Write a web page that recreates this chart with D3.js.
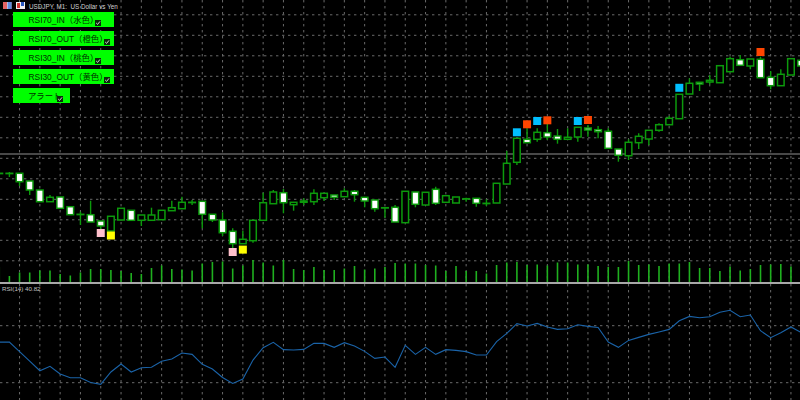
<!DOCTYPE html>
<html><head><meta charset="utf-8">
<script src="https://cdn.jsdelivr.net/npm/d3@7"></script>
<style>html,body{margin:0;padding:0;background:#000;overflow:hidden}svg{display:block}</style>
</head><body><svg id="c" width="800" height="400"></svg>
<script>
// Prices are in points above a base quote; bars run left to right, the first one cut by the edge.
const opens=[126.7,126.7,126.7,119,110,98.3,103,93.3,85.7,85.3,79,69,80,89.7,79.7,79.7,80.3,89.3,91.3,97.7,98.7,85.7,80,68.7,56.3,59.3,79.7,96.3,107.3,95.3,97.7,98.3,102.3,105,103.3,108.7,102.7,100,92.3,92.7,77.3,108,95,110.7,97.7,97,101.3,101.7,96.7,97,116,137.7,160.7,160.7,167.3,164,160.7,163,172,170.3,168.7,151,144.3,157.3,161,169.7,175.3,181.3,206,217.7,218,217.3,228.3,240.3,234,240.7,222.7,214.3,225,239.7];
const highs=[126.7,128,126.7,119,110,105,103,93.3,88.3,99.3,79,83.7,91.7,89.7,85,92.3,89.7,99.3,103.3,100,98.7,85.7,87.7,71.7,69.3,79.7,107.3,110,111,97.7,101.7,110.7,106.7,105,111.7,110,102.7,100,92.3,95,108.7,108,107.7,113.3,104.3,103,102.3,101.7,100.7,116.7,149,161.7,171.7,171.7,176.7,171,171.7,172.7,175,174,171.7,151,160.7,166.7,169.7,176.7,184,205.7,221.7,217.7,225,234.3,243.3,245,241,243.3,229,230.7,241.3,239.7];
const lows=[126.7,123,114,105,98.3,98.3,91.7,85.3,75,78,71,66,80,79.7,74,79.7,80.3,89.3,91.3,95,71.7,78,64,52,56.3,57.3,79.7,96.3,86.7,89.3,95,95,99,100,103.3,98.3,92.7,88.3,82.3,78,77.3,92.7,95,95,97.7,97,98.3,93.3,94,97,116,135,157.3,158.3,160,156.3,160.7,158.3,163.3,161.7,151.7,138.3,140,151,155,168.3,175.3,181.3,206,209,215.7,217.3,228.3,234.7,230.7,222.3,210.7,214.3,225,234];
const closes=[126.7,126.7,118.3,110,98.3,102.7,91.7,85.3,85.7,78,74,83.7,91.7,79.7,85,85,89.7,92.3,97.7,97.7,85.7,80,67.3,56.3,60.7,79.7,97.3,108,97.3,97.7,99,106.7,106.7,102.7,108.7,105.3,99,91.3,92.3,78,108.7,95.7,107.7,96.7,104.3,103,101.3,96.7,96.7,116.7,136.7,161.7,157.3,167.7,163,160.7,162.7,172.7,170,168.3,151.7,144.7,157.7,163.7,169.7,175.3,181.7,205.7,216.7,216,219.7,234.3,241.3,234.7,241,222.3,214.3,225.7,241.3,234];
const volumes=[30,12,19,19,23,23,16,13,19,26,26,24,22,18,16,28,33,26,25,23,37,40,41,27,33,44,39,33,44,26,24,30,24,24,27,32,25,27,30,38,37,37,34,33,22,32,22,22,17,34,39,40,34,35,33,39,39,35,35,32,30,30,42,34,35,32,37,37,40,28,28,22,31,23,26,34,35,36,31,30];
const rsi=[58.5,58.5,51.8,45.2,38.4,41.5,36.1,33.5,33.5,30.2,28.8,37.5,43.1,37.5,40.5,40.8,45,46.6,50.8,49.9,42.9,39.6,33.7,29.5,32.6,45.9,54.6,58.3,53.2,52.9,53.4,57.6,57.6,54.8,58.1,55.7,52,47.1,48,40.8,56.2,49.9,54.8,49.9,53.2,52.7,51.8,49.4,49.4,58.8,64.6,71.4,69.8,71.6,69.1,67.4,67.9,70.7,69.5,68.8,58.5,54.8,59.7,61.8,63.9,65.6,67.4,73.5,76.5,75.6,76.3,79.4,80.8,76.3,77.5,66.5,61.6,65.1,69.1,65.3];
const rsiLevels=[70,30];
const pinkBars=[10,23], pinkPrices=[67,48];
const yellowBars=[11,24], yellowPrices=[64.5,50.4];
const blueBars=[51,53,57,67], bluePrices=[167.7,179,179,212.2];
const orangeBars=[52,54,58,75], orangePrices=[175.7,179.7,180,248];
const buttonLabels=["RSI70_IN（水色）","RSI70_OUT（橙色）","RSI30_IN（桃色）","RSI30_OUT（黄色）","アラート"];
const buttonStates=[true,true,true,true,true];
const chartTitle="USDJPY, M1:  US Dollar vs Yen";
const rsiTitle="RSI(14) 40.82";
const bidPrice=146;

const svg=d3.select("#c");
svg.append("rect").attr("width",800).attr("height",400).attr("fill","#000");
const x=d3.scaleLinear().domain([0,79]).range([-0.75,801.1]);
const yP=d3.scaleLinear().domain([0,300]).range([300,0]);
const yV=d3.scaleLinear().domain([0,100]).range([282,232]);
const yR=d3.scaleLinear().domain([30,70]).range([382.7,325.7]);
const GRID="#6a6a6a";
const dash="2.4,3.6";

// grid
const g=svg.append("g").attr("stroke",GRID).attr("stroke-width",1).attr("stroke-dasharray",dash);
const vIdx=d3.range(2,80,2);
g.selectAll(".v1").data(vIdx).join("line").attr("class","v1").attr("x1",x).attr("x2",x).attr("y1",0).attr("y2",282);
g.selectAll(".v2").data(vIdx).join("line").attr("class","v2").attr("x1",x).attr("x2",x).attr("y1",284).attr("y2",400);
const hPrices=d3.range(0,13).map(k=>yP.invert(14.8+k*20.5));
g.selectAll(".h").data(hPrices).join("line").attr("class","h").attr("x1",0).attr("x2",800).attr("y1",yP).attr("y2",yP);
g.selectAll(".r").data(rsiLevels).join("line").attr("class","r").attr("x1",0).attr("x2",800).attr("y1",yR).attr("y2",yR);

// bid line
svg.append("line").attr("x1",0).attr("x2",800).attr("y1",yP(bidPrice)).attr("y2",yP(bidPrice)).attr("stroke","#606060").attr("stroke-width",1.4);

// volumes
svg.append("g").selectAll("line").data(volumes).join("line")
 .attr("x1",(d,i)=>x(i)).attr("x2",(d,i)=>x(i)).attr("y1",yV(0)).attr("y2",d=>yV(d))
 .attr("stroke","#1fb01f").attr("stroke-width",1.6);

// candles
const idx=d3.range(opens.length);
const GREEN="#0c9a0c";
svg.append("g").selectAll("line").data(idx).join("line")
 .attr("x1",x).attr("x2",x).attr("y1",i=>yP(highs[i])).attr("y2",i=>yP(lows[i]))
 .attr("stroke",GREEN).attr("stroke-width",1.4);
svg.append("g").selectAll("rect").data(idx).join("rect")
 .attr("x",i=>x(i)-3.3).attr("width",6.6)
 .attr("y",i=>yP(Math.max(opens[i],closes[i])))
 .attr("height",i=>Math.max(0.3,Math.abs(yP(opens[i])-yP(closes[i]))))
 .attr("fill",i=>closes[i]<opens[i]?"#fff":"#000")
 .attr("stroke",GREEN).attr("stroke-width",1.5);

// signal markers
function marks(bars,prices,color){
 svg.append("g").selectAll("rect").data(bars).join("rect")
  .attr("x",d=>x(d)-4).attr("width",8).attr("height",8)
  .attr("y",(d,i)=>yP(prices[i])-4).attr("fill",color);
}
marks(pinkBars,pinkPrices,"#ffc0cb");
marks(yellowBars,yellowPrices,"#ffff00");
marks(blueBars,bluePrices,"#00bfff");
marks(orangeBars,orangePrices,"#ff4500");

// separator
svg.append("rect").attr("x",0).attr("y",282).attr("width",800).attr("height",2).attr("fill","#a8a8a8");

// rsi
svg.append("path").datum(rsi)
 .attr("d",d3.line().x((d,i)=>x(i)).y(d=>yR(d)))
 .attr("fill","none").attr("stroke","#1a63a8").attr("stroke-width",1.1);
svg.append("text").attr("x",2).attr("y",291).attr("fill","#c0c0c0")
 .attr("font-family","'Liberation Sans'").attr("font-size",6.2).text(rsiTitle);

// header
svg.append("text").attr("x",29).attr("y",8.5).attr("fill","#d0d0d0")
 .attr("font-family","'Liberation Sans'").attr("font-size",6.3).style("white-space","pre").text(chartTitle);
const ic=svg.append("g");
ic.append("rect").attr("x",3).attr("y",2).attr("width",8.5).attr("height",7).attr("fill","#f0f0f0");
ic.append("rect").attr("x",3).attr("y",2).attr("width",4).attr("height",7).attr("fill","#e04848").attr("opacity",.85);
ic.append("rect").attr("x",7.5).attr("y",2).attr("width",4).attr("height",7).attr("fill","#4878d8").attr("opacity",.85);
ic.append("rect").attr("x",16).attr("y",2).attr("width",9).attr("height",7).attr("fill","#f0f0f0");
ic.append("rect").attr("x",17).attr("y",3).attr("width",3).attr("height",5).attr("fill","#d03030");
ic.append("rect").attr("x",21).attr("y",2).attr("width",3).attr("height",4).attr("fill","#2858c0");

// buttons
const btnW=[101,101,101,101,57], checkX=[82,91,82,91,44], textX=[15.5,15.5,15.5,15.5,15];
const b=svg.append("g").selectAll("g").data(buttonLabels).join("g")
 .attr("transform",(d,i)=>`translate(13,${12+i*19})`);
b.append("rect").attr("width",(d,i)=>btnW[i]).attr("height",15).attr("fill","#00ff00");
b.append("text").attr("x",(d,i)=>textX[i]).attr("y",11).attr("fill","#003000")
 .attr("font-family","'Liberation Sans','Noto Sans CJK JP'").attr("font-size",8.4).text(d=>d);
b.filter((d,i)=>buttonStates[i]).append("rect").attr("x",(d,i)=>checkX[i]).attr("y",8).attr("width",6).attr("height",6).attr("fill","#0b2a0b");
b.filter((d,i)=>buttonStates[i]).append("path")
 .attr("d",(d,i)=>{const p=d3.path();p.moveTo(checkX[i]+1.2,11);p.lineTo(checkX[i]+2.6,12.4);p.lineTo(checkX[i]+5,9.4);return p.toString();})
 .attr("fill","none").attr("stroke","#e8e8e8").attr("stroke-width",.9);
</script></body></html>
